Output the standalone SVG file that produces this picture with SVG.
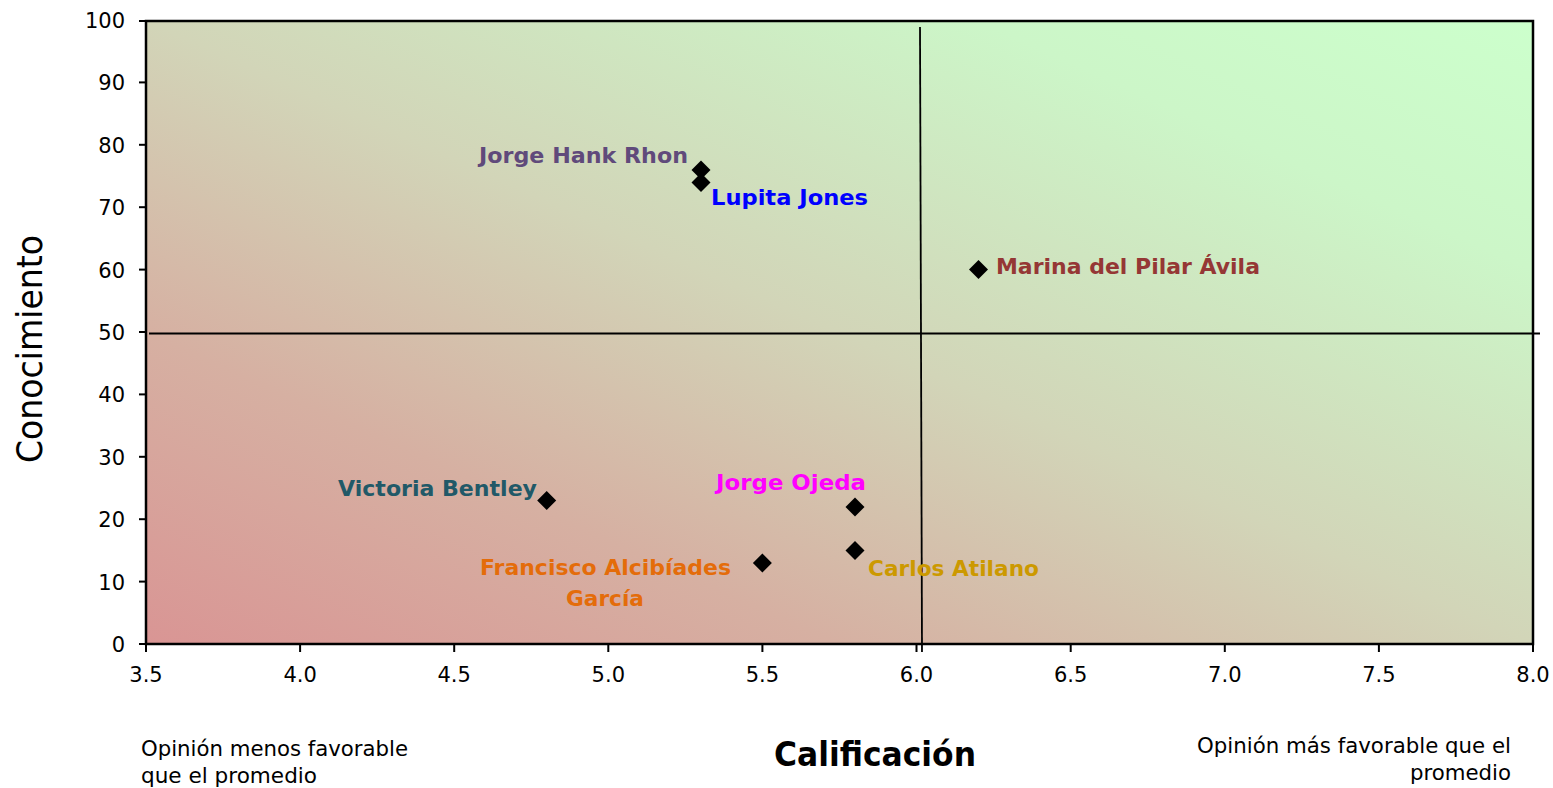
<svg xmlns="http://www.w3.org/2000/svg" width="1553" height="788" viewBox="0 0 1553 788">
<defs>
<linearGradient id="bg" x1="0" y1="1" x2="1" y2="0">
<stop offset="0" stop-color="#D99594"/>
<stop offset="0.25" stop-color="#D6B0A2"/>
<stop offset="0.5" stop-color="#D2D5B8"/>
<stop offset="0.8" stop-color="#CCF6C8"/>
<stop offset="1" stop-color="#CCFFCC"/>
</linearGradient>
<path id="dia" d="M0,-9.5 L9.5,0 L0,9.5 L-9.5,0 Z"/>
</defs>
<style>
text{font-family:"DejaVu Sans","Liberation Sans",sans-serif;fill:#000}
.tk{font-size:21px}
.ty{text-anchor:end}
.tx{text-anchor:middle}
.lb{font-size:22px;font-weight:bold}
.note{font-size:21px}
.grid{stroke:#000;stroke-width:1.8;fill:none}
.tick{stroke:#000;stroke-width:2}
</style>
<rect width="1553" height="788" fill="#fff"/>
<g id="plot">
<rect x="146" y="21" width="1387" height="623" fill="url(#bg)"/>
</g>
<g id="connectors">
<line class="grid" x1="920" y1="27" x2="922" y2="652"/>
<line class="grid" x1="149" y1="333.5" x2="1540" y2="333.5"/>
</g>
<g id="axes">
<rect x="146" y="21" width="1387" height="623" fill="none" stroke="#000" stroke-width="2.5"/>
<g class="tick">
<line x1="139" y1="644" x2="146" y2="644"/>
<line x1="139" y1="581.6" x2="146" y2="581.6"/>
<line x1="139" y1="519.2" x2="146" y2="519.2"/>
<line x1="139" y1="456.8" x2="146" y2="456.8"/>
<line x1="139" y1="394.4" x2="146" y2="394.4"/>
<line x1="139" y1="332" x2="146" y2="332"/>
<line x1="139" y1="269.6" x2="146" y2="269.6"/>
<line x1="139" y1="207.2" x2="146" y2="207.2"/>
<line x1="139" y1="144.8" x2="146" y2="144.8"/>
<line x1="139" y1="82.4" x2="146" y2="82.4"/>
<line x1="139" y1="21" x2="146" y2="21"/>
<line x1="146" y1="644" x2="146" y2="652"/>
<line x1="300.1" y1="644" x2="300.1" y2="652"/>
<line x1="454.2" y1="644" x2="454.2" y2="652"/>
<line x1="608.3" y1="644" x2="608.3" y2="652"/>
<line x1="762.4" y1="644" x2="762.4" y2="652"/>
<line x1="916.5" y1="644" x2="916.5" y2="652"/>
<line x1="1070.7" y1="644" x2="1070.7" y2="652"/>
<line x1="1224.8" y1="644" x2="1224.8" y2="652"/>
<line x1="1378.9" y1="644" x2="1378.9" y2="652"/>
<line x1="1533" y1="644" x2="1533" y2="652"/>
</g>
<g class="tk ty">
<text x="125" y="652">0</text>
<text x="125" y="589.6">10</text>
<text x="125" y="527.2">20</text>
<text x="125" y="464.8">30</text>
<text x="125" y="402.4">40</text>
<text x="125" y="340">50</text>
<text x="125" y="277.6">60</text>
<text x="125" y="215.2">70</text>
<text x="125" y="152.8">80</text>
<text x="125" y="90.4">90</text>
<text x="125" y="28">100</text>
</g>
<g class="tk tx">
<text x="146" y="682">3.5</text>
<text x="300.1" y="682">4.0</text>
<text x="454.2" y="682">4.5</text>
<text x="608.3" y="682">5.0</text>
<text x="762.4" y="682">5.5</text>
<text x="916.5" y="682">6.0</text>
<text x="1070.7" y="682">6.5</text>
<text x="1224.8" y="682">7.0</text>
<text x="1378.9" y="682">7.5</text>
<text x="1533" y="682">8.0</text>
</g>
<text transform="translate(42,349) rotate(-90)" text-anchor="middle" font-size="35" textLength="228" lengthAdjust="spacingAndGlyphs">Conocimiento</text>
<text x="875" y="766" text-anchor="middle" font-size="34" font-weight="bold" textLength="202" lengthAdjust="spacingAndGlyphs">Calificación</text>
<text class="note" x="141" y="756" textLength="267" lengthAdjust="spacingAndGlyphs">Opinión menos favorable</text>
<text class="note" x="141" y="783" textLength="176" lengthAdjust="spacingAndGlyphs">que el promedio</text>
<text class="note" x="1511" y="753" text-anchor="end" textLength="314" lengthAdjust="spacingAndGlyphs">Opinión más favorable que el</text>
<text class="note" x="1511" y="780" text-anchor="end" textLength="101" lengthAdjust="spacingAndGlyphs">promedio</text>
</g>
<g id="jorge-hank-rhon">
<use href="#dia" x="701" y="170"/>
<text class="lb" x="479" y="163" style="fill:#604A7B" textLength="209" lengthAdjust="spacingAndGlyphs">Jorge Hank Rhon</text>
</g>
<g id="lupita-jones">
<use href="#dia" x="701" y="182.5"/>
<text class="lb" x="711" y="205" style="fill:#0000FF" textLength="157" lengthAdjust="spacingAndGlyphs">Lupita Jones</text>
</g>
<g id="marina-del-pilar-avila">
<use href="#dia" x="978.5" y="269.6"/>
<text class="lb" x="996" y="274" style="fill:#953735" textLength="264" lengthAdjust="spacingAndGlyphs">Marina del Pilar Ávila</text>
</g>
<g id="victoria-bentley">
<use href="#dia" x="546.7" y="500.5"/>
<text class="lb" x="338" y="496" style="fill:#215968" textLength="199" lengthAdjust="spacingAndGlyphs">Victoria Bentley</text>
</g>
<g id="jorge-ojeda">
<use href="#dia" x="855" y="507"/>
<text class="lb" x="716" y="490" style="fill:#FF00FF" textLength="150" lengthAdjust="spacingAndGlyphs">Jorge Ojeda</text>
</g>
<g id="carlos-atilano">
<use href="#dia" x="855" y="550.5"/>
<text class="lb" x="868" y="576" style="fill:#CC9900" textLength="171" lengthAdjust="spacingAndGlyphs">Carlos Atilano</text>
</g>
<g id="francisco-alcibiades-garcia">
<use href="#dia" x="762.4" y="563"/>
<text class="lb" x="480" y="575" style="fill:#E46C0A" textLength="251" lengthAdjust="spacingAndGlyphs">Francisco Alcibíades</text>
<text class="lb" x="605" y="606" text-anchor="middle" style="fill:#E46C0A" textLength="78" lengthAdjust="spacingAndGlyphs">García</text>
</g>
</svg>
